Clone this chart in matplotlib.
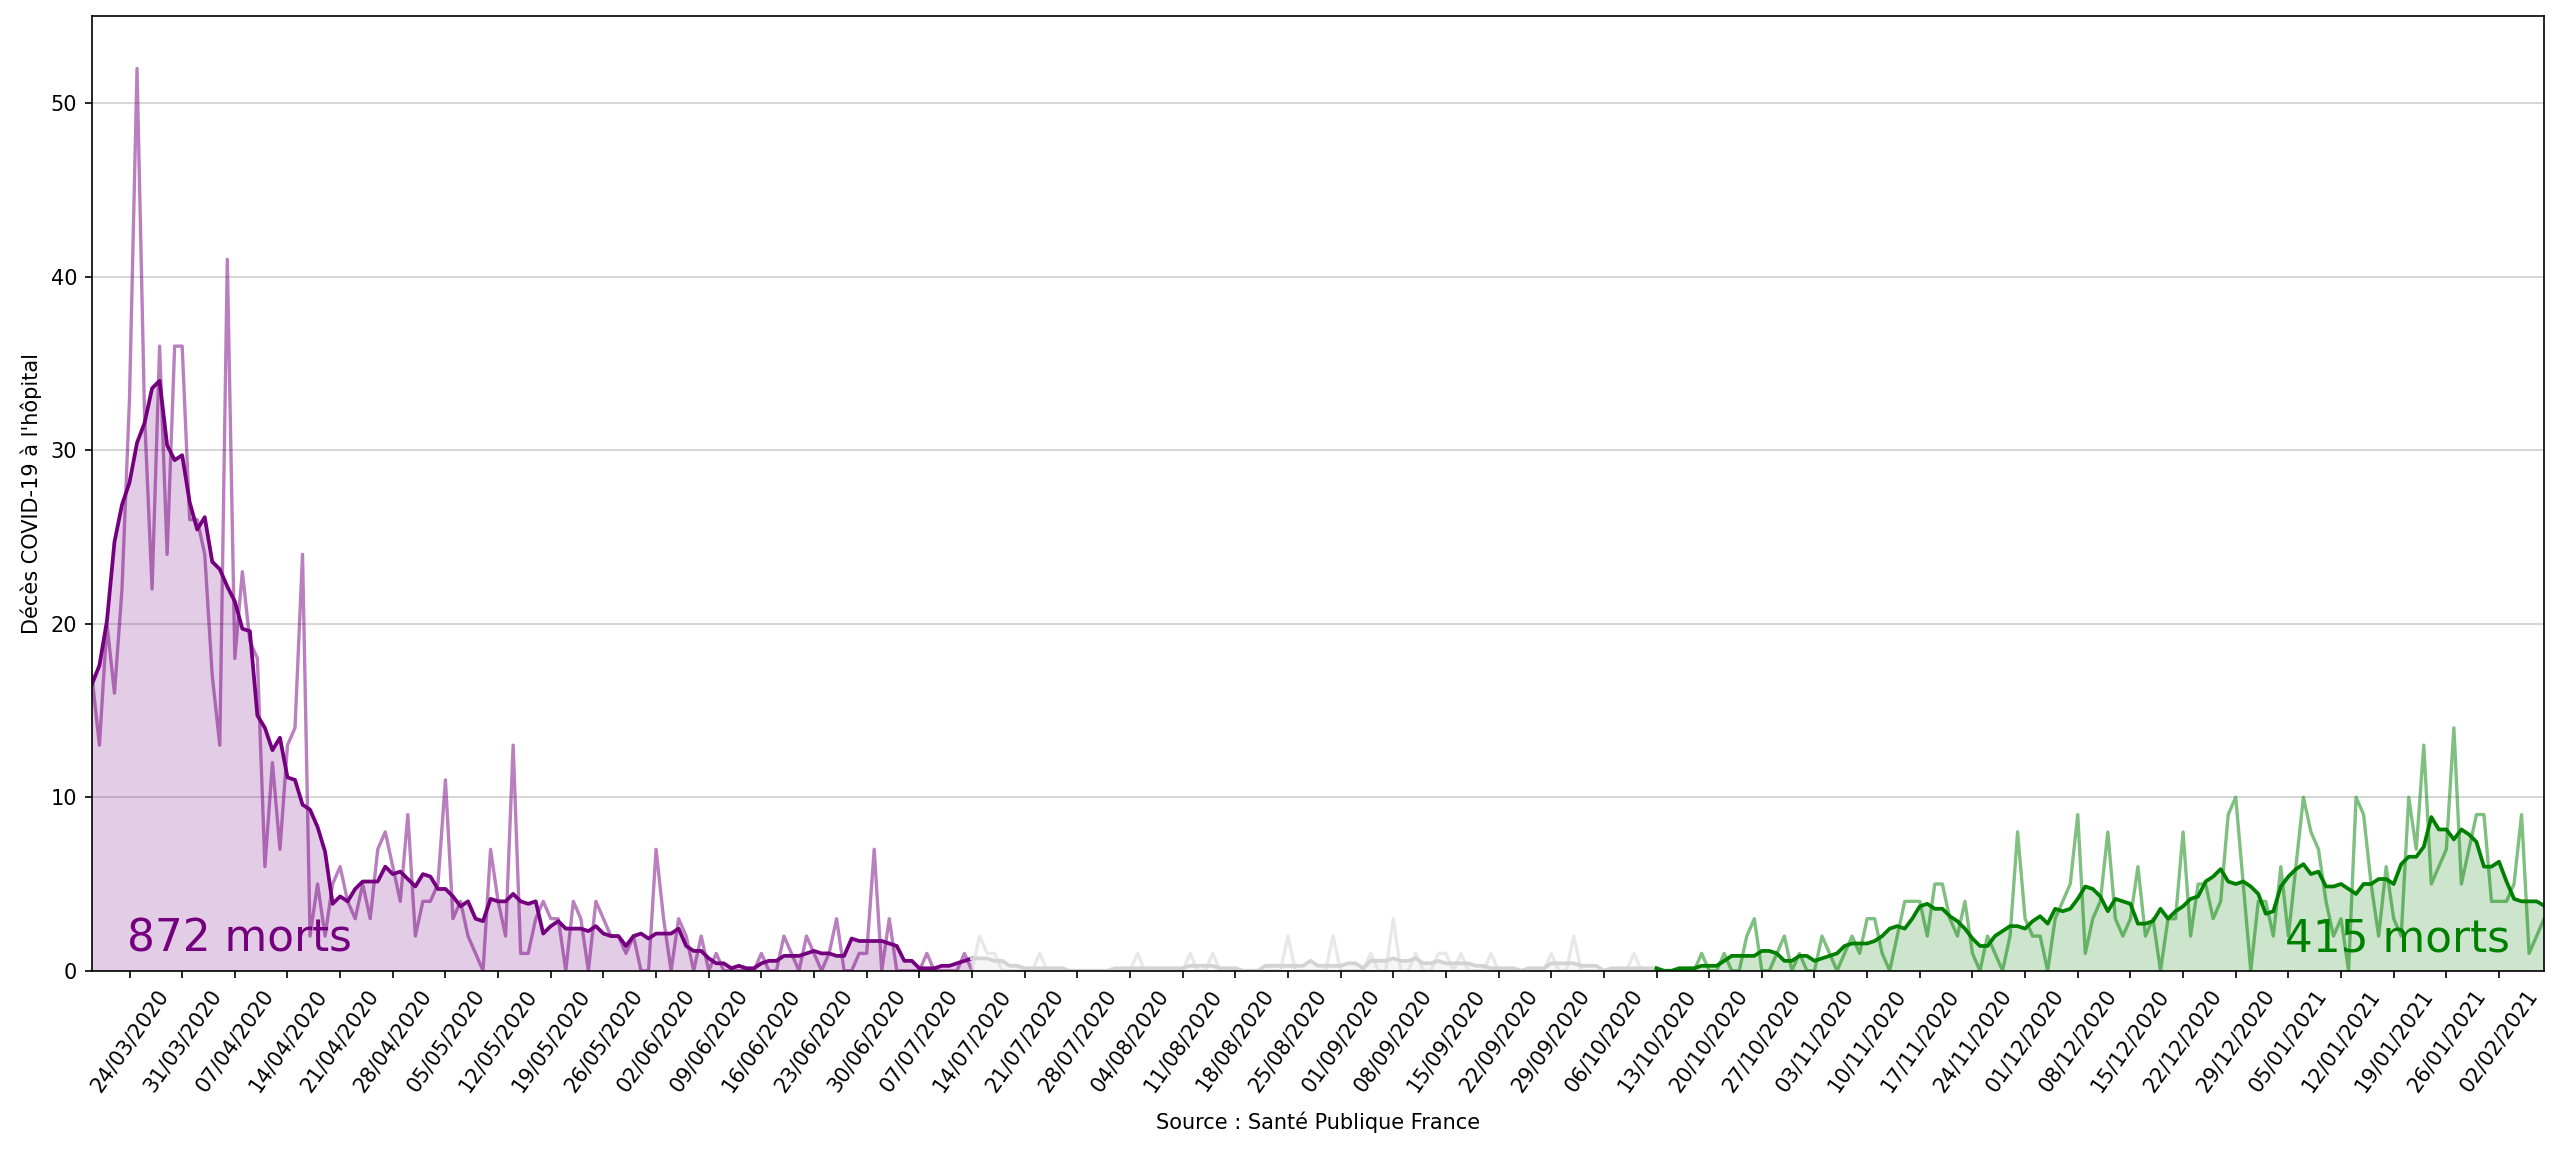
import matplotlib
matplotlib.use("Agg")
import matplotlib.pyplot as plt
import numpy as np
import pandas as pd

# Daily COVID-19 hospital deaths, from 19/03/2020
start_date = "2020-03-19"

# First wave: 19/03/2020 -> 14/07/2020
deaths_wave1 = [
    17, 13, 20, 16, 22, 33, 52, 32, 22, 36,
    24, 36, 36, 26, 26, 24, 17, 13, 41, 18,
    23, 19, 18, 6, 12, 7, 13, 14, 24, 2,
    5, 2, 5, 6, 4, 3, 5, 3, 7, 8,
    6, 4, 9, 2, 4, 4, 5, 11, 3, 4,
    2, 1, 0, 7, 4, 2, 13, 1, 1, 3,
    4, 3, 3, 0, 4, 3, 0, 4, 3, 2,
    2, 1, 2, 0, 0, 7, 3, 0, 3, 2,
    0, 2, 0, 1, 0, 0, 0, 0, 0, 1,
    0, 0, 2, 1, 0, 2, 1, 0, 1, 3,
    0, 0, 1, 1, 7, 0, 3, 0, 0, 0,
    0, 1, 0, 0, 0, 0, 1, 0,
]

# Summer: 15/07/2020 -> 12/10/2020
deaths_summer = [
    2, 1, 1, 0, 0, 0, 0, 0, 1, 0,
    0, 0, 0, 0, 0, 0, 0, 0, 0, 0,
    0, 1, 0, 0, 0, 0, 0, 0, 1, 0,
    0, 1, 0, 0, 0, 0, 0, 0, 0, 0,
    0, 2, 0, 0, 0, 0, 0, 2, 0, 0,
    0, 0, 1, 0, 0, 3, 0, 0, 1, 0,
    0, 1, 1, 0, 1, 0, 0, 0, 1, 0,
    0, 0, 0, 0, 0, 0, 1, 0, 0, 2,
    0, 0, 0, 0, 0, 0, 0, 1, 0, 0,
]

# Second wave: 13/10/2020 -> 08/02/2021
deaths_wave2 = [
    0, 0, 0, 0, 0, 0, 1, 0, 0, 1,
    0, 0, 2, 3, 0, 0, 1, 2, 0, 1,
    0, 0, 2, 1, 0, 1, 2, 1, 3, 3,
    1, 0, 2, 4, 4, 4, 2, 5, 5, 3,
    2, 4, 1, 0, 2, 1, 0, 2, 8, 3,
    2, 2, 0, 3, 4, 5, 9, 1, 3, 4,
    8, 3, 2, 3, 6, 2, 3, 0, 3, 3,
    8, 2, 5, 5, 3, 4, 9, 10, 5, 0,
    4, 4, 2, 6, 2, 6, 10, 8, 7, 4,
    2, 3, 0, 10, 9, 5, 2, 6, 3, 2,
    10, 7, 13, 5, 6, 7, 14, 5, 7, 9,
    9, 4, 4, 4, 5, 9, 1, 2, 3,
]

deaths = pd.Series(deaths_wave1 + deaths_summer + deaths_wave2, dtype=float)
dates = pd.date_range(start_date, periods=len(deaths), freq="D")
rolling = deaths.rolling(7, center=True, min_periods=1).mean()  # centred 7-day mean
x = np.arange(len(deaths))

n1 = len(deaths_wave1)
n2 = n1 + len(deaths_summer)

purple = "#74007f"

# (start, end, colour) for each segment, sharing the boundary day
segments = [
    (0, n1, purple),
    (n1 - 1, n2 + 1, "lightgray"),
    (n2, len(deaths), "green"),
]

fig, ax = plt.subplots(figsize=(2560 / 150, 1151 / 150), dpi=150)
fig.subplots_adjust(left=0.0359, right=0.9938, top=0.9857, bottom=0.1566)

for start, end, color in segments:
    xs = x[start:end]
    ax.plot(xs, deaths[start:end], color=color, alpha=0.5, linewidth=1.6)
    ax.plot(xs, rolling[start:end], color=color, linewidth=1.8)
    ax.fill_between(xs, rolling[start:end], color=color, alpha=0.2, linewidth=0)

ax.text(4.65, 1.1, "872 morts", fontsize=21, color=purple, ha="left", va="baseline")
ax.text(321.5, 1.1, "415 morts", fontsize=21, color="green", ha="right", va="baseline")

ax.set_xlim(0, len(deaths) - 1)
ax.set_ylim(0, 55)

tick_pos = x[5::7]
ax.set_xticks(tick_pos)
ax.set_xticklabels(dates[5::7].strftime("%d/%m/%Y"), rotation=55)

ax.grid(axis="y", alpha=0.6)
ax.set_axisbelow(True)

ax.set_ylabel("Décès COVID-19 à l'hôpital")
ax.set_xlabel("Source : Santé Publique France", labelpad=8)

plt.savefig("out.png", dpi=150)
